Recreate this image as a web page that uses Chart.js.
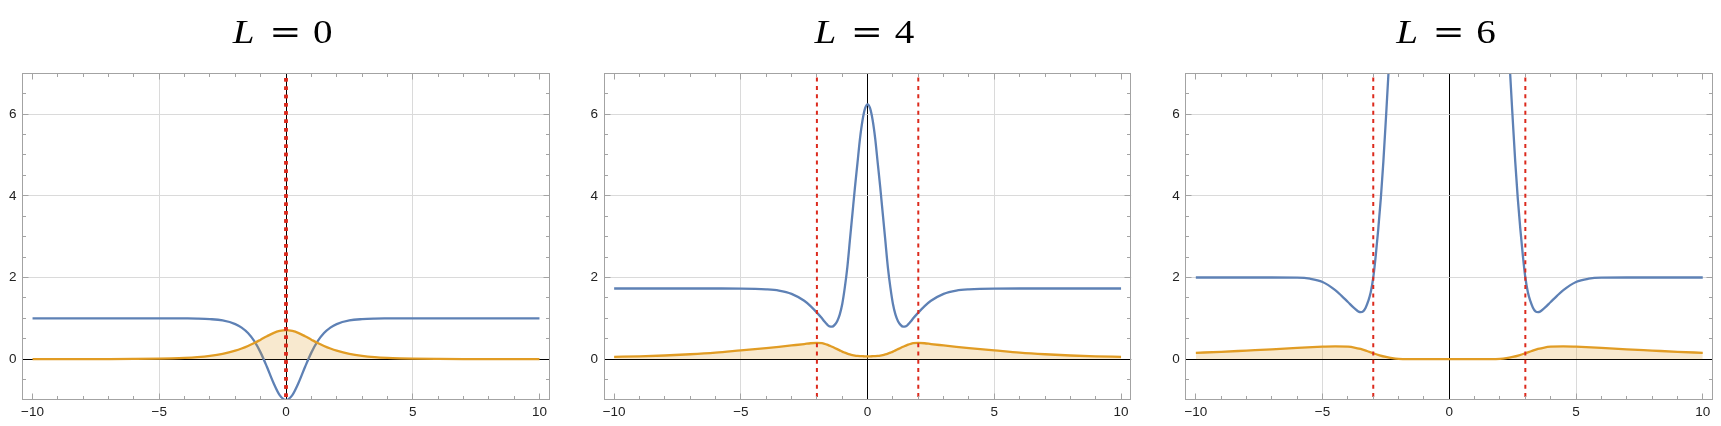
<!DOCTYPE html>
<html><head><meta charset="utf-8">
<script src="https://cdn.jsdelivr.net/npm/chart.js@4.4.1/dist/chart.umd.min.js"></script>
<style>
html,body{margin:0;padding:0;background:#fff;}
body{width:1721px;height:426px;position:relative;overflow:hidden;}
canvas{position:absolute;top:0;}
</style></head><body>
<canvas id="c1" width="560" height="426" style="left:0px"></canvas>
<canvas id="c2" width="581" height="426" style="left:560px"></canvas>
<canvas id="c3" width="580" height="426" style="left:1141px"></canvas>
<script>
// ---- tick values / labels ----
const titleValues = ['0', '4', '6'];
const xTickValues = [-10, -5, 0, 5, 10];
const xTickLabels = ['\u221210', '\u22125', '0', '5', '10'];
const yTickValues = [0, 2, 4, 6];
const yTickLabels = ['0', '2', '4', '6'];

// ---- panel 1 : L = 0 ----
const x1 = [-10,-9,-8,-7,-6,-5,-4.5,-4,-3.5,-3,-2.5,-2,-1.75,-1.5,-1.25,-1,-0.75,-0.5,-0.25,0,0.25,0.5,0.75,1,1.25,1.5,1.75,2,2.5,3,3.5,4,4.5,5,6,7,8,9,10];
const blue1 = [1,1,1,1,1,1,0.999,0.997,0.993,0.98,0.947,0.859,0.772,0.639,0.439,0.16,-0.193,-0.573,-0.88,-1,-0.88,-0.573,-0.193,0.16,0.439,0.639,0.772,0.859,0.947,0.98,0.993,0.997,0.999,1,1,1,1,1,1];
const orange1 = [0,0,0.001,0.002,0.005,0.012,0.02,0.032,0.051,0.082,0.131,0.208,0.26,0.323,0.396,0.478,0.561,0.637,0.69,0.71,0.69,0.637,0.561,0.478,0.396,0.323,0.26,0.208,0.131,0.082,0.051,0.032,0.02,0.012,0.005,0.002,0.001,0,0];
const redX1 = [0, 0];

// ---- panel 2 : L = 4 ----
const x2 = [-10,-9,-8,-7,-6,-5,-4,-3.5,-3,-2.5,-2.25,-2,-1.8,-1.7,-1.6,-1.5,-1.4,-1.3,-1.2,-1.1,-1,-0.9,-0.8,-0.7,-0.6,-0.5,-0.4,-0.3,-0.2,-0.1,0,0.1,0.2,0.3,0.4,0.5,0.6,0.7,0.8,0.9,1,1.1,1.2,1.3,1.4,1.5,1.6,1.7,1.8,2,2.25,2.5,3,3.5,4,5,6,7,8,9,10];
const blue2 = [1.73,1.73,1.73,1.73,1.73,1.728,1.71,1.68,1.6,1.43,1.3,1.14,1,0.92,0.85,0.8,0.795,0.84,0.93,1.09,1.35,1.75,2.25,2.9,3.55,4.2,4.8,5.4,5.85,6.14,6.24,6.14,5.85,5.4,4.8,4.2,3.55,2.9,2.25,1.75,1.35,1.09,0.93,0.84,0.795,0.8,0.85,0.92,1,1.14,1.3,1.43,1.6,1.68,1.71,1.728,1.73,1.73,1.73,1.73,1.73];
const orange2 = [0.055,0.07,0.09,0.12,0.16,0.215,0.27,0.3,0.335,0.37,0.39,0.4,0.39,0.375,0.355,0.33,0.305,0.275,0.245,0.215,0.185,0.16,0.137,0.117,0.1,0.088,0.08,0.075,0.072,0.07,0.07,0.07,0.072,0.075,0.08,0.088,0.1,0.117,0.137,0.16,0.185,0.215,0.245,0.275,0.305,0.33,0.355,0.375,0.39,0.4,0.39,0.37,0.335,0.3,0.27,0.215,0.16,0.12,0.09,0.07,0.055];
const redX2 = [-2, 2];

// ---- panel 3 : L = 6 ----
const xBlue3 = [-10,-9,-8,-7,-6,-5.5,-5,-4.5,-4.25,-4,-3.75,-3.5,-3.4,-3.3,-3.2,-3.1,-3,-2.9,-2.8,-2.7,-2.6,-2.5,-2.4,-2.3,0,2.3,2.4,2.5,2.6,2.7,2.8,2.9,3,3.1,3.2,3.3,3.4,3.5,3.75,4,4.25,4.5,5,5.5,6,7,8,9,10];
const blue3 = [2,2,2,2,1.995,1.97,1.89,1.69,1.55,1.4,1.25,1.15,1.17,1.26,1.42,1.64,2,2.55,3.2,3.95,4.85,5.9,7,8.3,null,8.3,7,5.9,4.85,3.95,3.2,2.55,2,1.64,1.42,1.26,1.17,1.15,1.25,1.4,1.55,1.69,1.89,1.97,1.995,2,2,2,2];
const xOrange3 = [-10,-9,-8,-7,-6,-5,-4.5,-4,-3.75,-3.5,-3.25,-3,-2.75,-2.5,-2.25,-2,-1.5,-1,0,1,1.5,2,2.25,2.5,2.75,3,3.25,3.5,3.75,4,4.5,5,6,7,8,9,10];
const orange3 = [0.155,0.18,0.21,0.24,0.275,0.305,0.315,0.305,0.285,0.25,0.2,0.145,0.095,0.055,0.025,0.008,0.001,0,0,0,0.001,0.008,0.025,0.055,0.095,0.145,0.2,0.25,0.285,0.305,0.315,0.305,0.275,0.24,0.21,0.18,0.155];
const redX3 = [-3, 3];

// ---- helpers ----
function pts(xs, ys) { return xs.map((x, i) => ({ x: x, y: ys[i] })); }

const framePlugin = {
  id: 'frameTicks',
  afterDraw(chart) {
    const ctx = chart.ctx, a = chart.chartArea, xs = chart.scales.x, ys = chart.scales.y;
    const L = Math.floor(a.left) + 0.5, T = Math.floor(a.top) + 0.5;
    const R = Math.round(a.right) - 0.5, B = Math.round(a.bottom) - 0.5;
    ctx.save();
    ctx.strokeStyle = '#a3a3a3';
    ctx.lineWidth = 1;
    ctx.strokeRect(L, T, R - L, B - T);
    ctx.beginPath();
    for (let v = -10; v <= 10; v++) {
      if (v === 0) continue;
      const px = Math.round(xs.getPixelForValue(v) - 0.5) + 0.5;
      const len = (v % 5 === 0) ? 6 : 3.5;
      ctx.moveTo(px, B); ctx.lineTo(px, B - len);
      ctx.moveTo(px, T); ctx.lineTo(px, T + len);
    }
    for (let k = -1; k <= 13; k++) {
      const v = k / 2;
      if (v === 0) continue;
      const py = Math.round(ys.getPixelForValue(v) - 0.5) + 0.5;
      const len = (v % 2 === 0) ? 6 : 3.5;
      ctx.moveTo(L, py); ctx.lineTo(L + len, py);
      ctx.moveTo(R, py); ctx.lineTo(R - len, py);
    }
    ctx.stroke();
    ctx.restore();
  }
};

const titlePlugin = {
  id: 'panelTitle',
  afterDraw(chart, args, opts) {
    const ctx = chart.ctx;
    const cx = chart.scales.x.getPixelForValue(0) - 4;
    const base = 43;
    const parts = [
      { t: 'L', f: 'italic 34px "Liberation Serif", serif', dx: -38.3, sx: 1.15 },
      { t: '=', f: '32px "DejaVu Serif", serif', dx: 3.3, sx: 1.2 },
      { t: opts.value, f: '34px "Liberation Serif", serif', dx: 40.8, sx: 1.15 }
    ];
    ctx.save();
    ctx.fillStyle = '#000';
    ctx.textAlign = 'center';
    ctx.textBaseline = 'alphabetic';
    for (const p of parts) {
      ctx.save();
      ctx.translate(cx + p.dx, base);
      ctx.scale(p.sx, 1);
      ctx.font = p.f;
      ctx.fillText(p.t, 0, 0);
      ctx.restore();
    }
    ctx.restore();
  }
};

function gridColor(v, isX) {
  if (v === 0) return '#000';
  if (isX && Math.abs(v) === 10) return 'rgba(0,0,0,0)';
  return '#dadada';
}

const tickFont = { family: '"Liberation Sans", Arial, sans-serif', size: 13.5 };

function makeChart(id, cfg) {
  const redSets = cfg.redX.map(rx => ({
    data: pts([rx, rx], [7, -1]),
    borderColor: '#dc2a1d', borderWidth: cfg.redW, borderDash: cfg.redDash,
    borderDashOffset: cfg.redOff, pointRadius: 0, fill: false, clip: 0, tension: 0
  }));
  new Chart(document.getElementById(id), {
    type: 'line',
    data: {
      datasets: redSets.concat([
        { data: pts(cfg.xo, cfg.orange), borderColor: '#e19c24', backgroundColor: 'rgba(225,156,36,0.22)',
          fill: 'origin', borderWidth: 2.3, pointRadius: 0, cubicInterpolationMode: 'monotone', clip: 0 },
        { data: pts(cfg.xb, cfg.blue), borderColor: '#5e81b5', borderWidth: 2.3, pointRadius: 0,
          fill: false, cubicInterpolationMode: 'monotone', clip: 0, spanGaps: false }
      ])
    },
    options: {
      responsive: false, animation: false, events: [],
      layout: { padding: { left: 0, right: cfg.padR, top: 73.3, bottom: 0 } },
      plugins: { legend: { display: false }, tooltip: { enabled: false }, title: { display: false },
                 panelTitle: { value: cfg.L } },
      scales: {
        x: {
          type: 'linear', min: -10.4, max: 10.4,
          afterBuildTicks: s => { s.ticks = xTickValues.map(v => ({ value: v })); },
          afterFit: s => { s.height = 26; },
          ticks: { callback: (v, i) => xTickLabels[i], font: tickFont, color: '#222', padding: 4,
                   maxRotation: 0, minRotation: 0, autoSkip: false },
          grid: { drawTicks: false, color: c => gridColor(c.tick ? c.tick.value : null, true), lineWidth: 1 },
          border: { display: false }
        },
        y: {
          type: 'linear', min: -1, max: 7,
          afterBuildTicks: s => { s.ticks = yTickValues.map(v => ({ value: v })); },
          afterFit: s => { s.width = cfg.yW; },
          ticks: { callback: (v, i) => yTickLabels[i], font: tickFont, color: '#222', padding: 6, autoSkip: false },
          grid: { drawTicks: false, color: c => gridColor(c.tick ? c.tick.value : null, false), lineWidth: 1 },
          border: { display: false }
        }
      }
    },
    plugins: [framePlugin, titlePlugin]
  });
}

makeChart('c1', { L: titleValues[0], xb: x1, blue: blue1, xo: x1, orange: orange1, redX: redX1,
  redW: 3.5, redDash: [3.5, 4.8], redOff: 3.5, yW: 22.4, padR: 10.4 });
makeChart('c2', { L: titleValues[1], xb: x2, blue: blue2, xo: x2, orange: orange2, redX: redX2,
  redW: 2, redDash: [4, 4.3], redOff: 4, yW: 44, padR: 9.8 });
makeChart('c3', { L: titleValues[2], xb: xBlue3, blue: blue3, xo: xOrange3, orange: orange3, redX: redX3,
  redW: 2, redDash: [4, 4.3], redOff: 4, yW: 44.7, padR: 8.1 });
</script>
</body></html>
